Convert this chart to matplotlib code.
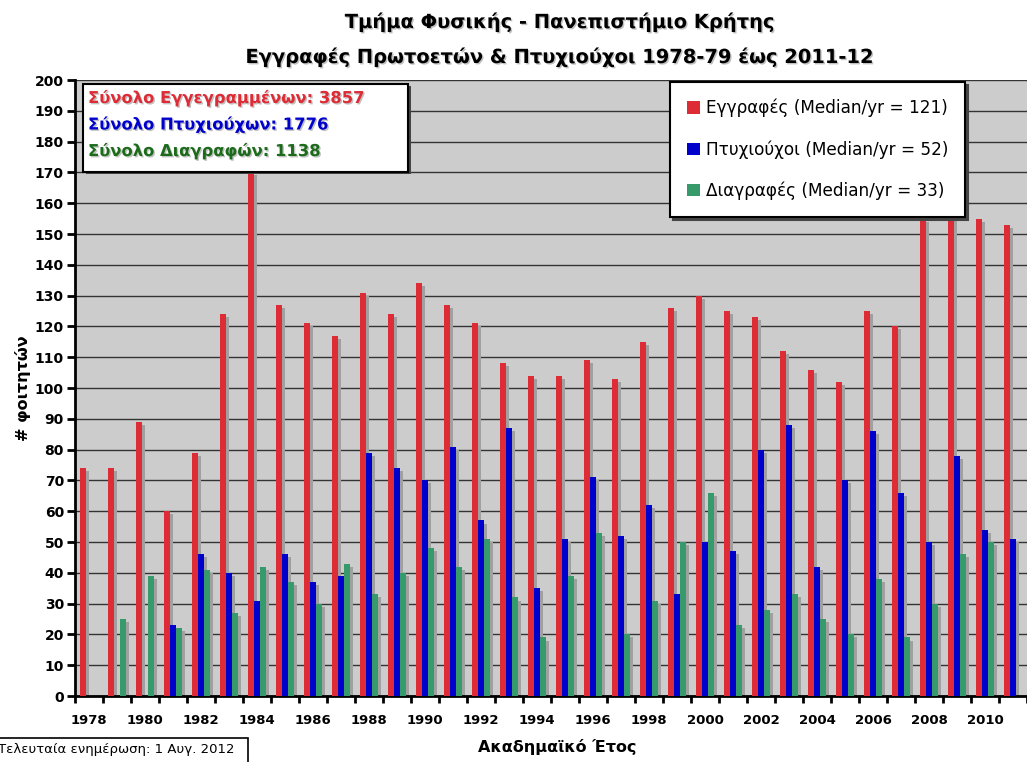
import numpy as np
import matplotlib
matplotlib.use('Agg')
import matplotlib.pyplot as plt
import matplotlib.patheffects as pe
from matplotlib.patches import Patch, Rectangle

# academic years 1978-79 ... 2011-12 (first year shown)
years = np.arange(1978, 2012)

# first-year enrolments
enrolled = [74, 74, 89, 60, 79, 124, 170, 127, 121, 117, 131, 124, 134, 127, 121, 108, 104,
            104, 109, 103, 115, 126, 130, 125, 123, 112, 106, 102, 125, 120, 155, 157, 155, 153]
# graduates
graduates = [0, 0, 0, 23, 46, 40, 31, 46, 37, 39, 79, 74, 70, 81, 57, 87, 35,
             51, 71, 52, 62, 33, 50, 47, 80, 88, 42, 70, 86, 66, 50, 78, 54, 51]
# deletions
deleted = [0, 25, 39, 22, 41, 27, 42, 37, 30, 43, 33, 40, 48, 42, 51, 32, 19,
           39, 53, 20, 31, 50, 66, 23, 28, 33, 25, 20, 38, 19, 30, 46, 50, 0]

series_labels = ['Εγγραφές (Median/yr = 121)',
                 'Πτυχιούχοι (Median/yr = 52)',
                 'Διαγραφές (Median/yr = 33)']
totals_text = ['Σύνολο Εγγεγραμμένων: 3857',
               'Σύνολο Πτυχιούχων: 1776',
               'Σύνολο Διαγραφών: 1138']

red = '#de2c36'
blue = '#0000cc'
green = '#369a6a'
dkgreen = '#1b6b1b'
shadow_col = '#a0a0a0'

plt.rcParams['font.family'] = ['DejaVu Sans']

fig = plt.figure(figsize=(10.27, 7.62), dpi=100)
ax = fig.add_axes([75 / 1027, 1 - 696 / 762, 952 / 1027, 616 / 762])
ax.set_facecolor('#cccccc')

w = 0.225
dx = 0.1
for vals, off in [(enrolled, -w), (graduates, 0), (deleted, w)]:
    v = np.array(vals, dtype=float)
    sh = np.where(v > 0, np.maximum(v - 1, 0), 0)
    ax.bar(years + off + dx, sh, width=w, color=shadow_col, zorder=2, linewidth=0)
for vals, off, col in [(enrolled, -w, red), (graduates, 0, blue), (deleted, w, green)]:
    ax.bar(years + off, vals, width=w, color=col, zorder=3, linewidth=0)

ax.set_xlim(1977.5, 2011.08)
ax.set_ylim(0, 200)
ax.set_yticks(np.arange(0, 201, 10))
ax.yaxis.grid(True, color='#333333', linewidth=1.0, zorder=1)
ax.set_axisbelow(True)

ax.set_xticks(years[::2])
ax.set_xticks(np.arange(1977.5, 2012, 1.0), minor=True)
ax.tick_params(axis='x', which='major', length=0, pad=13)
ax.tick_params(axis='x', which='minor', length=5, width=2, direction='out')
ax.tick_params(axis='y', length=6, width=2, direction='out', pad=2)
for lab in ax.get_xticklabels():
    lab.set_fontweight('bold')
    lab.set_fontsize(9.5)
for lab in ax.get_yticklabels():
    lab.set_fontweight('bold')
    lab.set_fontsize(10)

for s in ['top', 'right']:
    ax.spines[s].set_visible(False)
for s in ['left', 'bottom']:
    ax.spines[s].set_linewidth(2)

ax.set_xlabel('Ακαδημαϊκό Έτος', fontsize=11.5, fontweight='bold')
ax.xaxis.set_label_coords((557 - 75) / 952, -0.07)
ax.set_ylabel('# φοιτητών', fontsize=11.5, fontweight='bold')
ax.yaxis.set_label_coords(-0.046, 0.5)

tshadow = [pe.SimplePatchShadow(offset=(1, -1), shadow_rgbFace='#999999', alpha=0.6), pe.Normal()]

fig.text(560 / 1027, 1 - 22 / 762, 'Τμήμα Φυσικής - Πανεπιστήμιο Κρήτης', ha='center', va='center',
         fontsize=14, fontweight='bold', path_effects=tshadow)
fig.text(560 / 1027, 1 - 57 / 762, 'Εγγραφές Πρωτοετών & Πτυχιούχοι 1978-79 έως 2011-12', ha='center',
         va='center', fontsize=14, fontweight='bold', path_effects=tshadow)

# totals box
bx0, bx1 = (83 - 75) / 952, (408 - 75) / 952
by0, by1 = 1 - (172 - 80) / 616, 1 - (84 - 80) / 616
ax.add_patch(Rectangle((bx0 + 0.003, by0 - 0.004), bx1 - bx0, by1 - by0, transform=ax.transAxes,
                       facecolor='#444444', edgecolor='none', zorder=5))
ax.add_patch(Rectangle((bx0, by0), bx1 - bx0, by1 - by0, transform=ax.transAxes,
                       facecolor='white', edgecolor='black', linewidth=1.5, zorder=6))
for i, (txt, col) in enumerate(zip(totals_text, [red, blue, dkgreen])):
    ax.text((88 - 75) / 952, 1 - (98 - 80 + i * 26.5) / 616, txt, transform=ax.transAxes,
            color=col, fontsize=11.8, fontweight='bold', va='center', ha='left', zorder=7,
            path_effects=tshadow)

# legend
handles = [Patch(facecolor=c, edgecolor='none') for c in [red, blue, green]]
leg = ax.legend(handles, series_labels, loc='upper left', bbox_to_anchor=((670 - 75) / 952, 0.997),
                frameon=True, fancybox=False, shadow={'color': '#444444', 'alpha': 1},
                fontsize=12.2, handlelength=0.75, handleheight=0.75, handletextpad=0.35,
                labelspacing=1.35, borderpad=1.0, borderaxespad=0)
leg.get_frame().set_edgecolor('black')
leg.get_frame().set_linewidth(1.5)
leg.set_zorder(8)

# last update box (cropped at the figure corner)
fig.patches.append(Rectangle((-0.01, -0.01), 248 / 1027 + 0.01, 24 / 762 + 0.01,
                             transform=fig.transFigure, facecolor='white', edgecolor='black',
                             linewidth=1.2))
fig.text(-2 / 1027, 1 - 750 / 762, 'Τελευταία ενημέρωση: 1 Αυγ. 2012', ha='left', va='center',
         fontsize=9.5)

fig.savefig('out.png', dpi=100)
